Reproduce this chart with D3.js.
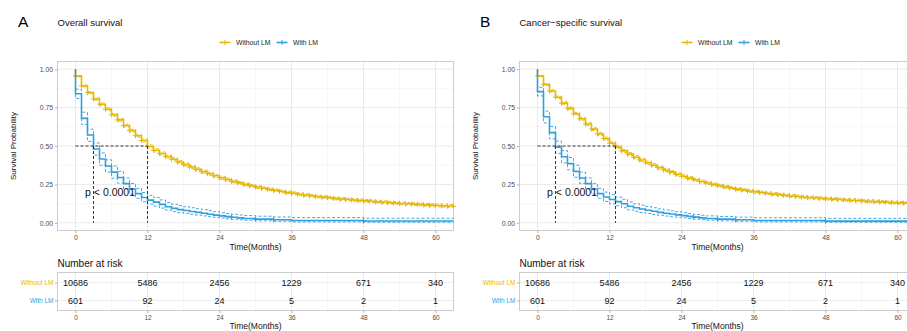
<!DOCTYPE html>
<html>
<head>
<meta charset="utf-8">
<script src="https://cdn.jsdelivr.net/npm/d3@7"></script>
<style>
  body { margin: 0; background: #fff; }
  svg { display: block; font-family: "Liberation Sans", Arial, sans-serif; }
</style>
</head>
<body>
<div id="chart"></div>
<script>
const groups = ["Without LM", "With LM"];
const colors = ["#E7B800", "#2E9FDF"];
const panelLetters = ["A", "B"];
const panelTitles = ["Overall survival", "Cancer\u2212specific survival"];

const xTicks = [0, 12, 24, 36, 48, 60];
const yTicks = [0, 0.25, 0.5, 0.75, 1];
const riskWithout = [10686, 5486, 2456, 1229, 671, 340];
const riskWith = [601, 92, 24, 5, 2, 1];

// Without LM: monthly steps, t = 0..63
const monthsWithout = d3.range(0, 64);
const osWithout = [
  0.955, 0.891, 0.847, 0.806, 0.772, 0.739, 0.703, 0.670,
  0.633, 0.600, 0.567, 0.536, 0.497, 0.472, 0.451, 0.432,
  0.414, 0.396, 0.379, 0.363, 0.348, 0.333, 0.319, 0.306,
  0.293, 0.281, 0.270, 0.260, 0.250, 0.241, 0.233, 0.225,
  0.218, 0.211, 0.204, 0.198, 0.192, 0.186, 0.181, 0.176,
  0.171, 0.167, 0.163, 0.159, 0.155, 0.152, 0.149, 0.146,
  0.143, 0.140, 0.137, 0.134, 0.131, 0.129, 0.126, 0.124,
  0.122, 0.120, 0.117, 0.115, 0.113, 0.111, 0.109, 0.107
];
const cssWithout = [
  0.956, 0.900, 0.858, 0.817, 0.779, 0.745, 0.710, 0.677,
  0.643, 0.610, 0.578, 0.548, 0.518, 0.493, 0.468, 0.447,
  0.427, 0.409, 0.391, 0.375, 0.359, 0.344, 0.330, 0.316,
  0.303, 0.291, 0.280, 0.269, 0.259, 0.250, 0.242, 0.234,
  0.226, 0.219, 0.213, 0.207, 0.202, 0.197, 0.192, 0.187,
  0.183, 0.179, 0.175, 0.171, 0.168, 0.165, 0.162, 0.159,
  0.157, 0.154, 0.152, 0.149, 0.147, 0.145, 0.142, 0.140,
  0.138, 0.136, 0.134, 0.132, 0.130, 0.128, 0.127, 0.126
];
// half width of the 95% band, Without LM
const ciHalfWithout = [
  0.004, 0.006, 0.007, 0.008, 0.008, 0.009, 0.009, 0.009,
  0.009, 0.009, 0.010, 0.010, 0.010, 0.010, 0.010, 0.010,
  0.010, 0.010, 0.010, 0.010, 0.010, 0.010, 0.010, 0.010,
  0.010, 0.010, 0.009, 0.009, 0.009, 0.009, 0.009, 0.009,
  0.009, 0.009, 0.009, 0.009, 0.009, 0.009, 0.009, 0.009,
  0.009, 0.009, 0.009, 0.009, 0.009, 0.009, 0.009, 0.009,
  0.009, 0.009, 0.009, 0.009, 0.009, 0.009, 0.009, 0.009,
  0.009, 0.009, 0.009, 0.009, 0.009, 0.010, 0.010, 0.010
];

// With LM: event times
const monthsWith = [0, 1, 2, 3, 4, 5, 6, 7, 8, 9, 10, 11, 12, 13, 14, 15, 16, 17, 18, 19,
  20, 21, 22, 23, 24, 25, 26, 27, 28, 30, 33, 36, 48];
const osWith = [0.84, 0.68, 0.572, 0.48, 0.415, 0.37, 0.33, 0.295, 0.255, 0.22, 0.19, 0.165,
  0.148, 0.135, 0.12, 0.105, 0.094, 0.086, 0.080, 0.074, 0.068, 0.062, 0.056, 0.050, 0.045,
  0.040, 0.036, 0.032, 0.028, 0.024, 0.020, 0.015, 0.012];
const osWithLower = [0.81, 0.64, 0.53, 0.44, 0.375, 0.33, 0.29, 0.258, 0.22, 0.187, 0.16, 0.137,
  0.121, 0.109, 0.096, 0.083, 0.073, 0.066, 0.061, 0.055, 0.050, 0.045, 0.040, 0.035, 0.031,
  0.027, 0.023, 0.020, 0.017, 0.013, 0.010, 0.006, 0.004];
const osWithUpper = [0.87, 0.72, 0.61, 0.52, 0.455, 0.41, 0.37, 0.335, 0.292, 0.256, 0.224, 0.197,
  0.179, 0.165, 0.149, 0.133, 0.121, 0.112, 0.105, 0.098, 0.092, 0.086, 0.079, 0.072, 0.066,
  0.060, 0.055, 0.051, 0.047, 0.043, 0.038, 0.034, 0.030];
const cssWith = [0.854, 0.69, 0.587, 0.492, 0.43, 0.385, 0.335, 0.292, 0.255, 0.22, 0.19, 0.168,
  0.152, 0.138, 0.124, 0.108, 0.098, 0.090, 0.082, 0.075, 0.068, 0.062, 0.057, 0.052, 0.047,
  0.042, 0.037, 0.032, 0.028, 0.024, 0.020, 0.015, 0.011];
const cssWithLower = [0.826, 0.65, 0.546, 0.452, 0.39, 0.345, 0.297, 0.256, 0.22, 0.187, 0.159, 0.139,
  0.124, 0.111, 0.098, 0.084, 0.075, 0.068, 0.061, 0.055, 0.049, 0.044, 0.040, 0.036, 0.032,
  0.028, 0.024, 0.020, 0.017, 0.013, 0.010, 0.006, 0.004];
const cssWithUpper = [0.882, 0.727, 0.627, 0.532, 0.47, 0.425, 0.375, 0.33, 0.292, 0.255, 0.224, 0.2,
  0.183, 0.168, 0.153, 0.136, 0.124, 0.115, 0.106, 0.098, 0.091, 0.084, 0.078, 0.072, 0.066,
  0.060, 0.054, 0.049, 0.045, 0.041, 0.037, 0.033, 0.029];
const censorWith = [26, 30, 33, 48];

const osMedians = [12, 3];
const cssMedians = [13, 3];
const pText = "p < 0.0001";

const width = 907, height = 331;
const svg = d3.select("#chart").append("svg")
  .attr("width", width).attr("height", height);

function panel(ox, letter, title, without, withS, withLo, withHi, medians) {
  const left = 57.5 + ox, right = 453.5 + ox;
  const top = 61.5, bottom = 230.5;
  const x = d3.scaleLinear().domain([-3, 63]).range([left, right]);
  const y = d3.scaleLinear().domain([-0.05, 1.05]).range([bottom, top]);
  const g = svg.append("g");

  g.append("text").attr("x", 18 + ox).attr("y", 27).attr("font-size", 15.5).text(letter);
  g.append("text").attr("x", left).attr("y", 25.5).attr("font-size", 9.5).attr("fill", "#111").text(title);

  // legend
  const lg = g.append("g").attr("transform", `translate(${left + 162},42.5)`);
  const legendX = [0, 57];
  groups.forEach((name, i) => {
    const k = lg.append("g").attr("transform", `translate(${legendX[i]},0)`);
    k.append("line").attr("x1", 0).attr("x2", 11).attr("stroke", colors[i]).attr("stroke-width", 1.6);
    k.append("line").attr("x1", 5.5).attr("x2", 5.5).attr("y1", -2.5).attr("y2", 2.5).attr("stroke", colors[i]).attr("stroke-width", 1);
    k.append("text").attr("x", 16.5).attr("dy", "0.35em").attr("font-size", 6.8).attr("fill", "#222").text(name);
  });

  // grid
  const minorX = [6, 18, 30, 42, 54];
  const minorY = [0.125, 0.375, 0.625, 0.875];
  g.append("g").selectAll("line").data(minorX).join("line")
    .attr("x1", d => x(d)).attr("x2", d => x(d)).attr("y1", top).attr("y2", bottom)
    .attr("stroke", "#F2F2F2").attr("stroke-width", 0.6);
  g.append("g").selectAll("line").data(minorY).join("line")
    .attr("y1", d => y(d)).attr("y2", d => y(d)).attr("x1", left).attr("x2", right)
    .attr("stroke", "#F2F2F2").attr("stroke-width", 0.6);
  g.append("g").selectAll("line").data(xTicks).join("line")
    .attr("x1", d => x(d)).attr("x2", d => x(d)).attr("y1", top).attr("y2", bottom)
    .attr("stroke", "#E6E6E6").attr("stroke-width", 0.9);
  g.append("g").selectAll("line").data(yTicks).join("line")
    .attr("y1", d => y(d)).attr("y2", d => y(d)).attr("x1", left).attr("x2", right)
    .attr("stroke", "#E6E6E6").attr("stroke-width", 0.9);

  // axes
  const ax = g.append("g").attr("transform", `translate(0,${bottom})`)
    .call(d3.axisBottom(x).tickValues(xTicks).tickSize(2.5).tickPadding(2).tickSizeOuter(0));
  const ay = g.append("g").attr("transform", `translate(${left},0)`)
    .call(d3.axisLeft(y).tickValues(yTicks).tickFormat(d3.format(".2f")).tickSize(2.5).tickPadding(2).tickSizeOuter(0));
  [ax, ay].forEach(a => {
    a.select(".domain").remove();
    a.selectAll("line").attr("stroke", "#B3B3B3");
    a.selectAll("text").attr("font-size", 6.8).attr("fill", "#4D4D4D").attr("font-family", null);
  });
  g.append("rect").attr("x", left).attr("y", top).attr("width", right - left).attr("height", bottom - top)
    .attr("fill", "none").attr("stroke", "#CCCCCC").attr("stroke-width", 1);

  g.append("text").attr("x", (left + right) / 2).attr("y", 249.5).attr("text-anchor", "middle")
    .attr("font-size", 8.5).attr("fill", "#111").text("Time(Months)");
  g.append("text").attr("transform", `translate(${15.5 + ox},${(top + bottom) / 2}) rotate(-90)`)
    .attr("text-anchor", "middle").attr("font-size", 8).attr("fill", "#111").text("Survival Probability");

  const step = d3.line().x(d => x(d[0])).y(d => y(d[1])).curve(d3.curveStepAfter);
  const path = (times, vals) => [[0, 1]].concat(times.map((t, i) => [t, vals[i]]), [[63, vals[vals.length - 1]]]);

  const plot = g.append("g");
  const sets = [
    { times: monthsWithout, s: without, lo: without.map((v, i) => v - ciHalfWithout[i]), hi: without.map((v, i) => v + ciHalfWithout[i]), censor: monthsWithout, c: colors[0] },
    { times: monthsWith, s: withS, lo: withLo, hi: withHi, censor: censorWith, c: colors[1] }
  ];
  sets.forEach(sr => {
    [sr.lo, sr.hi].forEach(band => {
      plot.append("path").attr("d", step(path(sr.times, band))).attr("fill", "none")
        .attr("stroke", sr.c).attr("stroke-width", 0.9).attr("stroke-dasharray", "3,2");
    });
  });
  sets.forEach(sr => {
    plot.append("path").attr("d", step(path(sr.times, sr.s))).attr("fill", "none")
      .attr("stroke", sr.c).attr("stroke-width", 1.6);
    const lookup = t => {
      const i = d3.bisectRight(sr.times, t) - 1;
      return sr.s[Math.max(i, 0)];
    };
    plot.append("g").selectAll("path").data(sr.censor).join("path")
      .attr("d", t => {
        const cx = x(t), cy = y(lookup(t));
        return `M${cx - 2.5},${cy}H${cx + 2.5}M${cx},${cy - 2.5}V${cy + 2.5}`;
      })
      .attr("stroke", sr.c).attr("stroke-width", 1);
  });

  // median lines
  const med = g.append("g").attr("stroke", "#222").attr("stroke-width", 0.9).attr("stroke-dasharray", "3,2").attr("fill", "none");
  med.append("line").attr("x1", x(0)).attr("x2", x(d3.max(medians))).attr("y1", y(0.5)).attr("y2", y(0.5));
  medians.forEach(m => med.append("line").attr("x1", x(m)).attr("x2", x(m)).attr("y1", y(0.5)).attr("y2", y(0)));

  g.append("text").attr("x", x(1.6)).attr("y", y(0.2)).attr("dy", "0.35em")
    .attr("font-size", 10.5).attr("fill", "#111").text(pText);

  // risk table
  g.append("text").attr("x", left).attr("y", 266.5).attr("font-size", 10).attr("fill", "#111").text("Number at risk");
  const rTop = 272.5, rBottom = 310.5;
  const ry = d3.scalePoint().domain(groups).range([rTop, rBottom]).padding(0.56);
  const rt = g.append("g");
  rt.selectAll("line.minor").data(minorX).join("line").attr("class", "minor")
    .attr("x1", d => x(d)).attr("x2", d => x(d)).attr("y1", rTop).attr("y2", rBottom)
    .attr("stroke", "#F2F2F2").attr("stroke-width", 0.6);
  rt.selectAll("line.major").data(xTicks).join("line").attr("class", "major")
    .attr("x1", d => x(d)).attr("x2", d => x(d)).attr("y1", rTop).attr("y2", rBottom)
    .attr("stroke", "#E6E6E6").attr("stroke-width", 0.9);
  rt.selectAll("line.row").data(groups).join("line").attr("class", "row")
    .attr("x1", left).attr("x2", right).attr("y1", d => ry(d)).attr("y2", d => ry(d))
    .attr("stroke", "#EDEDED").attr("stroke-width", 0.9);
  rt.append("rect").attr("x", left).attr("y", rTop).attr("width", right - left).attr("height", rBottom - rTop)
    .attr("fill", "none").attr("stroke", "#CCCCCC").attr("stroke-width", 1);

  const rax = rt.append("g").attr("transform", `translate(0,${rBottom})`)
    .call(d3.axisBottom(x).tickValues(xTicks).tickSize(2.5).tickPadding(2).tickSizeOuter(0));
  const ray = rt.append("g").attr("transform", `translate(${left},0)`)
    .call(d3.axisLeft(ry).tickSize(2.5).tickPadding(1.5).tickSizeOuter(0));
  [rax, ray].forEach(a => {
    a.select(".domain").remove();
    a.selectAll("line").attr("stroke", "#B3B3B3");
    a.selectAll("text").attr("font-size", 6.5).attr("fill", "#4D4D4D").attr("font-family", null);
  });
  ray.selectAll("text").attr("fill", (d, i) => colors[i]);

  [riskWithout, riskWith].forEach((row, i) => {
    rt.append("g").selectAll("text").data(row).join("text")
      .attr("x", (d, j) => x(xTicks[j])).attr("y", ry(groups[i])).attr("dy", "0.35em")
      .attr("text-anchor", "middle").attr("font-size", 9).attr("fill", "#111").text(d => d);
  });
  g.append("text").attr("x", (left + right) / 2).attr("y", 329).attr("text-anchor", "middle")
    .attr("font-size", 8.5).attr("fill", "#111").text("Time(Months)");
}

panel(0, panelLetters[0], panelTitles[0], osWithout, osWith, osWithLower, osWithUpper, osMedians);
panel(462, panelLetters[1], panelTitles[1], cssWithout, cssWith, cssWithLower, cssWithUpper, cssMedians);
</script>
</body>
</html>
